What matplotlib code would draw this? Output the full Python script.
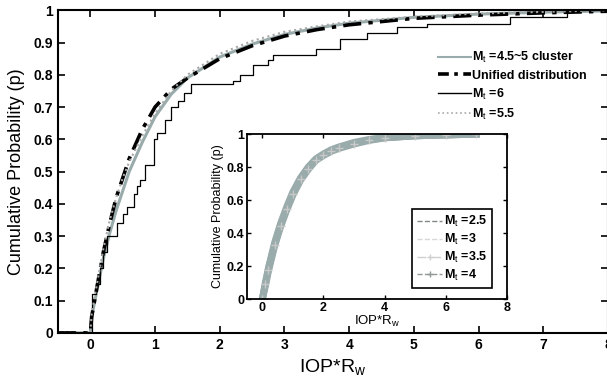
import matplotlib
matplotlib.use("Agg")
import matplotlib.pyplot as plt
from matplotlib.lines import Line2D

plt.rcParams['font.family'] = ['Liberation Sans', 'DejaVu Sans']
plt.rcParams['mathtext.fontset'] = 'custom'
plt.rcParams['mathtext.rm'] = 'Liberation Sans'
plt.rcParams['mathtext.it'] = 'Liberation Sans:italic'
plt.rcParams['mathtext.bf'] = 'Liberation Sans:bold'

# main plot data
x_uni = [-0.5, 0, 0.02, 0.1, 0.2, 0.3, 0.4, 0.5, 0.6, 0.8, 1.0, 1.25, 1.5, 1.75, 2.0, 2.5, 3.0, 3.5, 4, 5, 6, 7, 8]
p_uni = [0, 0, 0.05, 0.14, 0.25, 0.34, 0.42, 0.48, 0.54, 0.63, 0.70, 0.755, 0.79, 0.82, 0.85, 0.89, 0.92, 0.94, 0.955, 0.975, 0.985, 0.992, 0.997]

x_clu = [-0.5, 0, 0.02, 0.1, 0.2, 0.3, 0.4, 0.5, 0.6, 0.8, 1.0, 1.25, 1.5, 2, 2.5, 3, 3.5, 4, 5, 6, 7, 8]
p_clu = [0, 0, 0.05, 0.13, 0.23, 0.31, 0.38, 0.44, 0.50, 0.59, 0.67, 0.74, 0.79, 0.855, 0.895, 0.925, 0.945, 0.96, 0.978, 0.988, 0.994, 0.998]
p_55 = [0, 0, 0.06, 0.15, 0.26, 0.35, 0.42, 0.48, 0.53, 0.61, 0.68, 0.75, 0.80, 0.865, 0.905, 0.933, 0.95, 0.965, 0.98, 0.99, 0.995, 1.0]

x_m6 = [-0.5, 0, 0.03, 0.08, 0.15, 0.2, 0.26, 0.41, 0.5, 0.57, 0.67, 0.72, 0.77, 0.85, 0.98, 1.03, 1.15, 1.24, 1.35, 1.44, 1.55, 2.0, 2.2, 2.32, 2.52, 2.74, 2.83, 3.48, 3.86, 4.28, 4.74, 5.2, 6.49, 7.37, 8]
p_m6 = [0, 0, 0.12, 0.15, 0.2, 0.25, 0.30, 0.34, 0.37, 0.39, 0.43, 0.455, 0.475, 0.52, 0.6, 0.62, 0.66, 0.70, 0.72, 0.745, 0.77, 0.77, 0.78, 0.80, 0.83, 0.845, 0.86, 0.88, 0.91, 0.93, 0.947, 0.956, 0.98, 1.0, 1.0]

# inset data
x_in = [0, 0.1, 0.2, 0.4, 0.6, 0.8, 1.0, 1.25, 1.5, 1.75, 2, 2.25, 2.5, 3, 3.5, 4, 5, 6, 7]
p_25 = [0, 0.09, 0.18, 0.33, 0.45, 0.55, 0.64, 0.73, 0.795, 0.845, 0.875, 0.9, 0.918, 0.945, 0.965, 0.978, 0.99, 0.995, 1.0]
p_3 = [0, 0.10, 0.19, 0.34, 0.46, 0.56, 0.65, 0.735, 0.80, 0.85, 0.88, 0.905, 0.922, 0.95, 0.968, 0.98, 0.99, 0.996, 1.0]
p_35 = [0, 0.08, 0.17, 0.32, 0.44, 0.54, 0.63, 0.72, 0.785, 0.84, 0.87, 0.895, 0.913, 0.94, 0.962, 0.977, 0.99, 0.995, 1.0]
p_4 = [0, 0.09, 0.175, 0.325, 0.445, 0.545, 0.635, 0.725, 0.79, 0.842, 0.873, 0.898, 0.916, 0.943, 0.964, 0.978, 0.99, 0.995, 1.0]

fig = plt.figure(figsize=(6.07, 3.8), dpi=100)
ax = fig.add_axes([0.0956, 0.124, 0.906, 0.849])

ax.plot(x_clu, p_clu, color='#9aabab', lw=2.2, label=r'M$_\mathrm{t}$ =4.5~5 cluster')
ax.plot(x_uni, p_uni, color='black', lw=2.6, dashes=(5, 2, 1.2, 2), label='Unified distribution')
ax.plot(x_m6, p_m6, color='black', lw=0.9, drawstyle='steps-post', label=r'M$_\mathrm{t}$ =6')
ax.plot(x_clu, p_55, color='#a8a8a8', lw=1.5, ls=':', label=r'M$_\mathrm{t}$ =5.5')

ax.set_xlim(-0.5, 8)
ax.set_ylim(0, 1)
ax.set_xticks(range(0, 9))
ax.set_yticks([0, 0.1, 0.2, 0.3, 0.4, 0.5, 0.6, 0.7, 0.8, 0.9, 1])
ax.set_yticklabels(['0', '0.1', '0.2', '0.3', '0.4', '0.5', '0.6', '0.7', '0.8', '0.9', '1'])
ax.tick_params(direction='in', top=True, right=True, labelsize=10, width=1.2, length=5)
for lab in ax.get_xticklabels() + ax.get_yticklabels():
    lab.set_fontweight('bold')
for s in ax.spines.values():
    s.set_linewidth(1.5)
ax.set_xlabel(r'IOP*R$_\mathrm{w}$', fontsize=14, labelpad=4)
ax.set_ylabel('Cumulative Probability (p)', fontsize=13, labelpad=6)

main_handles = [
    Line2D([], [], color='#9aabab', lw=1.5),
    Line2D([], [], color='black', lw=2.6, dashes=(3, 1.5, 1, 1.5)),
    Line2D([], [], color='black', lw=1.0),
    Line2D([], [], color='#a8a8a8', lw=1.2, ls=':'),
]
main_labels = [r'M$_\mathrm{t}$ =4.5~5 cluster', 'Unified distribution', r'M$_\mathrm{t}$ =6', r'M$_\mathrm{t}$ =5.5']
ax.legend(main_handles, main_labels, loc='upper left', bbox_to_anchor=(438 / 607, 1 - 50 / 380),
          bbox_transform=fig.transFigure, frameon=False, borderpad=0, borderaxespad=0,
          handlelength=2.6, handletextpad=0.15, labelspacing=0.38,
          prop={'weight': 'bold', 'size': 9})

# inset
ins = fig.add_axes([0.407, 0.213, 0.428, 0.434])
gray = '#9aabab'
ins.plot(x_in, p_25, color=gray, lw=5)
ins.plot(x_in, p_3, color=gray, lw=5)
ins.plot(x_in, p_35, color=gray, lw=5)
ins.plot(x_in, p_4, color=gray, lw=4, marker='+', ms=6, mec='#c8c8c8')
ins.set_xlim(-0.5, 8)
ins.set_ylim(0, 1)
ins.set_xticks([0, 2, 4, 6, 8])
ins.set_yticks([0, 0.2, 0.4, 0.6, 0.8, 1])
ins.set_yticklabels(['0', '0.2', '0.4', '0.6', '0.8', '1'])
ins.tick_params(direction='in', top=True, right=True, labelsize=9, width=1, length=3, pad=2)
for lab in ins.get_xticklabels() + ins.get_yticklabels():
    lab.set_fontweight('bold')
for s in ins.spines.values():
    s.set_linewidth(1.3)
ins.set_xlabel(r'IOP*R$_\mathrm{w}$', fontsize=9.5, labelpad=0)
ins.set_ylabel('Cumulative Probability (p)', fontsize=9, labelpad=2)

handles = [
    Line2D([], [], color='#808888', lw=1, ls='--'),
    Line2D([], [], color='#d8d8d8', lw=1, ls='--'),
    Line2D([], [], color='#d0d0d0', lw=1, ls='-.', marker='+', ms=5, markevery=[1]),
    Line2D([], [], color='#909898', lw=1, ls='--', marker='+', ms=5, markevery=[1]),
]
labels = [r'M$_\mathrm{t}$ =2.5', r'M$_\mathrm{t}$ =3', r'M$_\mathrm{t}$ =3.5', r'M$_\mathrm{t}$ =4']
leg = ins.legend(handles, labels, loc='lower right', bbox_to_anchor=(0.967, 0.03), fancybox=False,
                 edgecolor='black', framealpha=1, handlelength=2.0, handletextpad=0.15,
                 labelspacing=0.22, borderpad=0.4, prop={'weight': 'bold', 'size': 9})
leg.get_frame().set_linewidth(1.2)

fig.savefig('out.png', dpi=100)
